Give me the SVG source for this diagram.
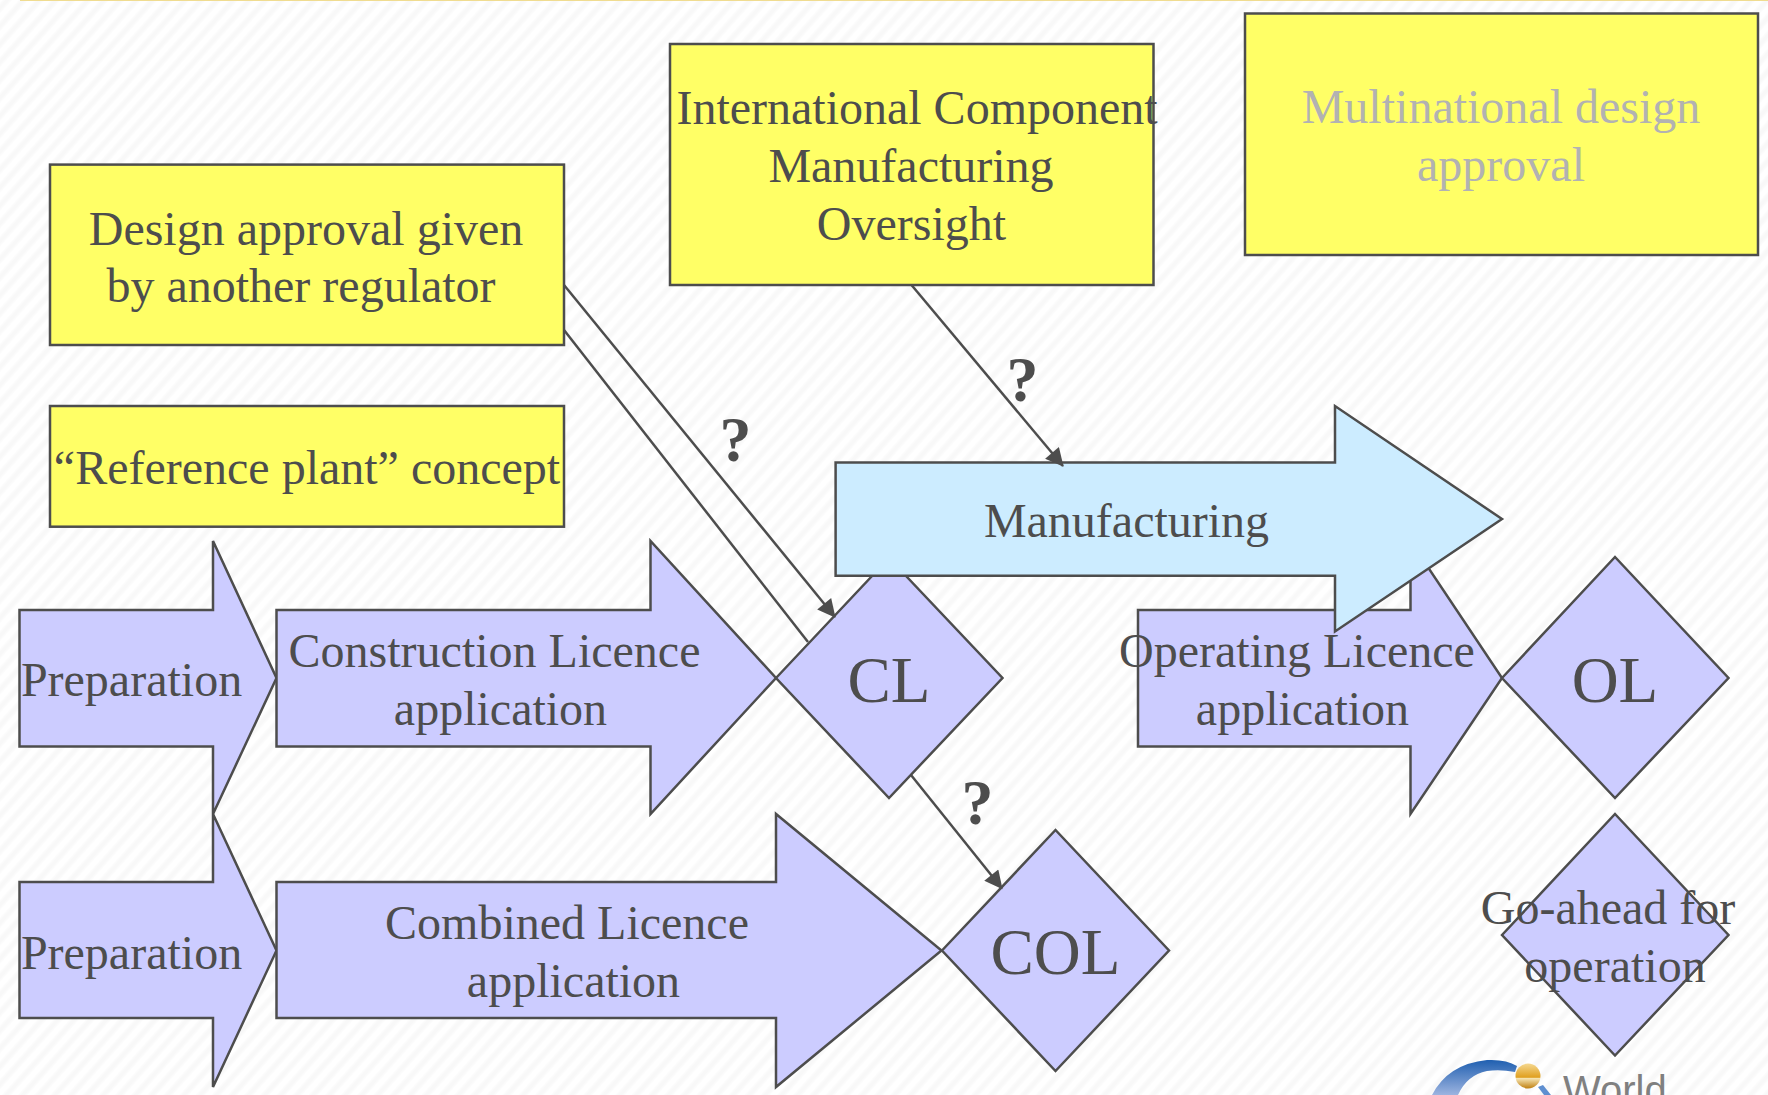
<svg xmlns="http://www.w3.org/2000/svg" width="1768" height="1095" viewBox="0 0 1768 1095">
<style>
text{font-family:"Liberation Serif","Times New Roman",serif;font-size:48px;fill:#4d4d4d;text-anchor:middle}
.y{fill:#ffff66;stroke:#4d4d4d;stroke-width:2.500}
.p{fill:#ccccff;stroke:#4d4d4d;stroke-width:2.500}
.b{fill:#ccecff;stroke:#4d4d4d;stroke-width:2.500}
.big{font-size:65px}
.q{font-size:64px;font-weight:bold}
.c{fill:none;stroke:#4d4d4d;stroke-width:2.500}
</style>
<defs>
<pattern id="st" width="12" height="12" patternUnits="userSpaceOnUse" patternTransform="rotate(-48)"><rect width="12" height="12" fill="#ffffff"/><rect y="2" width="12" height="7" fill="#fcfcfc"/><rect y="3.500" width="12" height="4" fill="#f8f8f8"/></pattern>
<marker id="ah" viewBox="0 0 10 10" refX="9.500" refY="5" markerWidth="20" markerHeight="18" markerUnits="userSpaceOnUse" orient="auto"><path d="M0 0L10 5L0 10z" fill="#4d4d4d"/></marker>
<linearGradient id="lg" x1="0" y1="0" x2="0" y2="1"><stop offset="0" stop-color="#1f5fb0"/><stop offset="1" stop-color="#9db4e0"/></linearGradient>
<linearGradient id="gg" x1="0" y1="0" x2="0" y2="1"><stop offset="0" stop-color="#f5d890"/><stop offset="0.550" stop-color="#e0a020"/><stop offset="0.600" stop-color="#f5e3b0"/><stop offset="1" stop-color="#c08010"/></linearGradient>
</defs>
<rect width="1768" height="1095" fill="url(#st)"/>
<rect x="20" y="0" width="1748" height="1" fill="#f0dc90"/>
<g id="logo">
<path d="M1432 1095Q1448 1064 1487 1060Q1506 1059 1517 1066L1515 1072Q1500 1069 1487 1071Q1467 1075 1458 1095z" fill="url(#lg)"/>
<circle cx="1528" cy="1076" r="12.500" fill="url(#gg)"/>
<path d="M1538 1087L1543 1085L1551 1095L1544 1095z" fill="#5f8fd0"/>
<text x="1563" y="1104" style="font-family:'Liberation Sans',Arial,sans-serif;font-size:40px;fill:#808080;text-anchor:start">World</text>
</g>
<g id="node-preparation-1"><path class="p" d="M19.500 610H213V541L276.500 678L213 814V746.500H19.500z"/><text x="131.500" y="696">Preparation</text></g>
<g id="node-preparation-2"><path class="p" d="M19.500 882H213V814L276.500 950.500L213 1087V1018H19.500z"/><text x="131.500" y="968.500">Preparation</text></g>
<g id="node-construction"><path class="p" d="M276.500 610H650.500V541L776 678L650.500 814V746.500H276.500z"/><text x="494.500" y="667">Construction Licence</text><text x="500.500" y="725">application</text></g>
<g id="node-combined"><path class="p" d="M276.500 882H776V814L941.500 950.500L776 1087V1018H276.500z"/><text x="567" y="939">Combined Licence</text><text x="573.500" y="997">application</text></g>
<g id="node-cl"><path class="p" d="M776 678L889 558L1002.500 678L889 798z"/><text class="big" x="889" y="702">CL</text></g>
<g id="node-col"><path class="p" d="M942 950.500L1055.500 830L1169 950.500L1055.500 1071z"/><text class="big" x="1055.500" y="974">COL</text></g>
<g id="node-operating"><path class="p" d="M1138 610H1410.500V541L1502 678L1410.500 814V746.500H1138z"/><text x="1297" y="667">Operating Licence</text><text x="1302.500" y="725">application</text></g>
<g id="node-ol"><path class="p" d="M1502 678L1615 557L1728.500 678L1615 798z"/><text class="big" x="1615" y="702">OL</text></g>
<g id="node-goahead"><path class="p" d="M1502 935L1615 814L1728.500 935L1615 1055.500z"/><text x="1608" y="924">Go-ahead for</text><text x="1615" y="982">operation</text></g>
<g id="node-manufacturing"><path class="b" d="M835.600 462.500H1335V406L1502 519L1335 631.500V575.700H835.600z"/><text x="1126.500" y="537">Manufacturing</text></g>
<g id="node-design-approval"><rect class="y" x="50" y="164.600" width="514" height="180.400"/><text x="306" y="244.500">Design approval given</text><text x="301" y="302">by another regulator</text></g>
<g id="node-reference-plant"><rect class="y" x="50" y="406" width="514" height="120.700"/><text x="307" y="484">“Reference plant” concept</text></g>
<g id="node-icmo"><rect class="y" x="670" y="44" width="483.500" height="241"/><text x="917" y="124">International Component</text><text x="911" y="182">Manufacturing</text><text x="911.500" y="240">Oversight</text></g>
<g id="node-multinational"><rect class="y" x="1245" y="13.500" width="513" height="241.500"/><text x="1501" y="123" style="fill:#b2b2b2">Multinational design</text><text x="1501" y="181" style="fill:#b2b2b2">approval</text></g>
<g id="connectors">
<line class="c" x1="564" y1="285" x2="835" y2="617" marker-end="url(#ah)"/>
<line class="c" x1="564" y1="330" x2="808" y2="642"/>
<line class="c" x1="911.500" y1="285" x2="1063" y2="466" marker-end="url(#ah)"/>
<line class="c" x1="911" y1="775" x2="1002" y2="888.500" marker-end="url(#ah)"/>
</g>
<text class="q" x="735.500" y="461">?</text>
<text class="q" x="1022.500" y="401">?</text>
<text class="q" x="977.500" y="824">?</text>
</svg>
